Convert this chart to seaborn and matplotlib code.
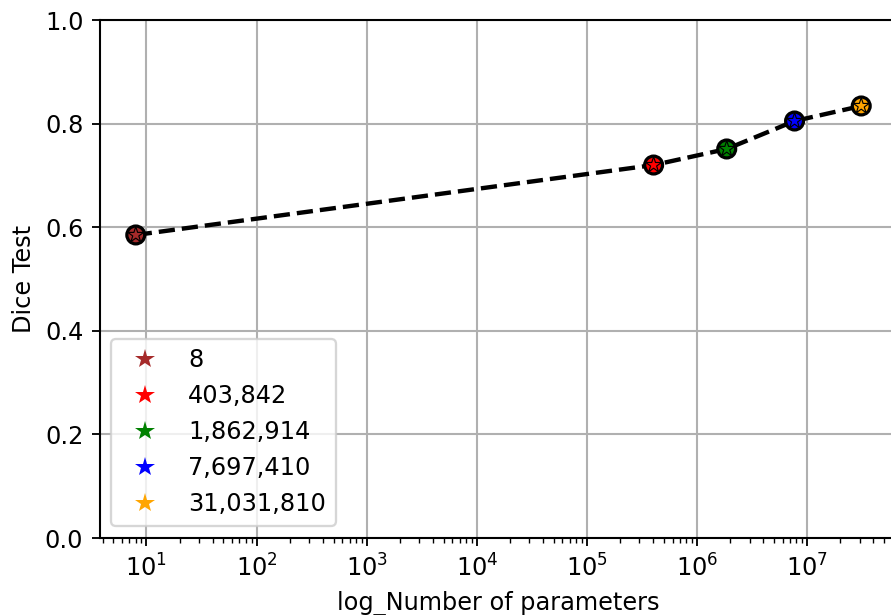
import matplotlib
matplotlib.use("Agg")
import matplotlib.pyplot as plt
from matplotlib.lines import Line2D
import seaborn as sns
import pandas as pd

# Model sizes (number of parameters) and their test Dice scores
params = [8, 403842, 1862914, 7697410, 31031810]
dice = [0.585, 0.720, 0.751, 0.805, 0.834]
colors = ["brown", "red", "green", "blue", "orange"]
labels = [f"{p:,}" for p in params]

df = pd.DataFrame({"params": params, "dice": dice, "label": labels})

plt.rcParams.update({
    "font.family": ["DejaVu Sans"],
    "font.size": 10.4,
    "axes.linewidth": 0.9,
})

DPI = 166
fig = plt.figure(figsize=(891 / DPI, 615 / DPI), dpi=DPI)
ax = fig.add_axes([99.5 / 891, 77 / 615, 798 / 891, 518 / 615])

sns.lineplot(data=df, x="params", y="dice", color="black", linestyle="--",
             linewidth=1.9, ax=ax, zorder=2, legend=False)
sns.scatterplot(data=df, x="params", y="dice", hue="label", palette=colors,
                marker="o", s=60, edgecolor="black", linewidth=1.4,
                ax=ax, zorder=3, legend=False)
sns.scatterplot(data=df, x="params", y="dice", hue="label", palette=colors,
                marker="*", s=52, edgecolor="black", linewidth=0.5,
                ax=ax, zorder=4, legend=False)

ax.set_xscale("log")
ax.set_ylim(0, 1.0)
ax.set_yticks([0.0, 0.2, 0.4, 0.6, 0.8, 1.0])
ax.set_xlabel("log_Number of parameters")
ax.set_ylabel("Dice Test")
ax.grid(True, which="major", color="#b0b0b0", linewidth=0.9)
ax.set_axisbelow(True)
for s in ax.spines.values():
    s.set_color("black")

handles = [Line2D([], [], linestyle="none", marker="*", markersize=9,
                  color=c, markeredgewidth=0) for c in colors]
ax.legend(handles, labels, loc="lower left")

fig.savefig("out.png", dpi=DPI)
